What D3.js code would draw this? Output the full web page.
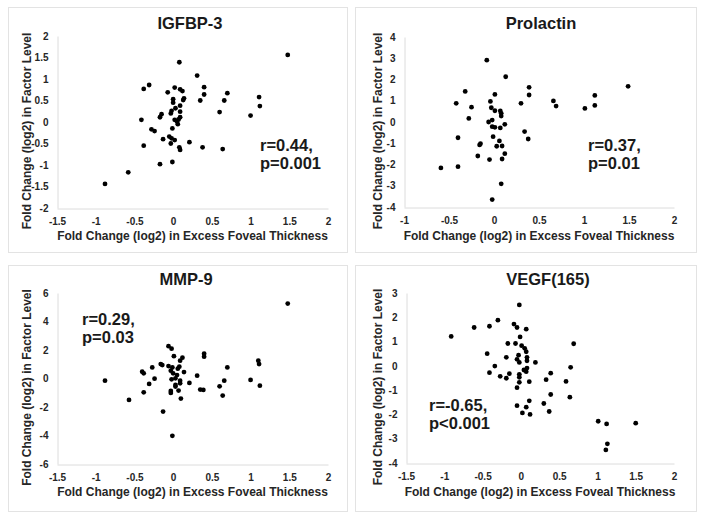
<!DOCTYPE html>
<html><head><meta charset="utf-8">
<script src="https://cdn.jsdelivr.net/npm/d3@7"></script>
<style>
html,body{margin:0;padding:0;background:#fff;}
svg{display:block;font-family:"Liberation Sans",Arial,sans-serif;}
</style></head>
<body><svg id="c" width="704" height="520"></svg>
<script>
// ---- data ----
const titles = ["IGFBP-3", "Prolactin", "MMP-9", "VEGF(165)"];
const statLines = [["r=0.44,", "p=0.001"], ["r=0.37,", "p=0.01"], ["r=0.29,", "p=0.03"], ["r=-0.65,", "p<0.001"]];
const xTitle = "Fold Change (log2) in Excess Foveal Thickness";
const yTitle = "Fold Change (log2) in Factor Level";

const igfbp3X = [1.48,0.08,0.31,-0.38,-0.31,-0.07,0.02,0.09,0.12,0.14,0.13,0.40,0.40,0.35,0.70,0.66,1.11,1.12,0.60,1.00,-0.41,0.00,0.00,0.03,-0.02,-0.03,0.09,0.09,-0.15,-0.17,0.09,0.07,0.02,0.05,0.06,-0.01,-0.28,-0.24,-0.13,-0.05,-0.02,0.02,-0.03,0.21,0.08,0.09,0.38,0.64,-0.38,-0.17,-0.01,-0.58,-0.88];
const igfbp3Y = [1.56,1.39,1.08,0.77,0.86,0.69,0.80,0.76,0.72,0.55,0.51,0.81,0.64,0.50,0.67,0.50,0.58,0.37,0.23,0.15,0.05,0.53,0.45,0.32,0.26,0.20,0.38,0.24,0.18,0.11,0.11,0.06,0.05,0.01,-0.05,-0.15,-0.17,-0.21,-0.40,-0.34,-0.38,-0.42,-0.50,-0.47,-0.59,-0.65,-0.59,-0.63,-0.55,-0.98,-0.93,-1.17,-1.44];

const prolactinX = [-0.08,0.13,-0.32,-0.42,-0.25,-0.28,0.01,-0.04,-0.03,0.01,0.07,0.08,0.08,-0.02,-0.06,-0.02,0.01,0.07,0.12,0.30,0.39,0.39,0.66,0.69,1.01,1.12,1.12,1.49,0.34,0.38,-0.40,-0.01,0.06,0.03,0.09,-0.15,-0.16,0.12,-0.18,-0.05,0.09,-0.40,-0.59,0.08,-0.02];
const prolactinY = [2.91,2.13,1.44,0.88,0.70,0.17,1.30,0.97,0.67,0.53,0.52,0.41,0.28,0.09,0.00,-0.22,-0.25,-0.28,-0.11,0.88,1.63,1.27,0.99,0.75,0.64,0.78,1.25,1.68,-0.45,-0.80,-0.74,-0.69,-0.89,-1.14,-1.13,-1.02,-1.08,-1.49,-1.60,-1.77,-1.74,-2.10,-2.16,-2.91,-3.65];

const mmp9X = [1.48,-0.88,-0.57,-0.13,-0.01,-0.06,-0.02,0.01,0.40,0.40,0.12,0.09,-0.16,-0.14,-0.27,-0.40,-0.38,-0.24,-0.31,-0.38,-0.06,-0.01,0.06,0.14,0.08,-0.03,0.00,0.05,-0.02,0.03,0.09,0.03,0.09,0.07,-0.03,-0.03,0.10,0.03,0.21,0.31,0.35,0.39,0.70,0.66,0.60,0.64,1.00,1.10,1.11,1.12];
const mmp9Y = [5.26,-0.15,-1.50,-2.32,-4.02,2.27,2.09,1.57,1.74,1.53,1.46,1.25,1.01,0.94,0.78,0.48,0.36,-0.01,-0.38,-0.97,0.87,0.78,0.69,0.45,0.83,0.55,0.36,0.24,-0.06,0.01,-0.15,-0.45,-0.34,-0.85,-0.87,-1.01,-1.41,-0.57,-0.31,0.20,-0.78,-0.80,0.78,-0.15,-0.55,-1.20,-0.10,1.25,1.01,-0.50];

const vegfX = [-0.02,-0.91,-0.61,-0.41,-0.30,-0.09,-0.05,0.07,-0.01,-0.17,-0.07,0.69,0.01,0.05,0.07,-0.44,-0.19,-0.03,-0.05,0.08,0.08,-0.02,0.19,-0.34,0.65,0.08,0.04,0.07,-0.41,0.39,-0.02,-0.27,-0.19,-0.15,-0.02,0.11,0.33,0.59,-0.02,-0.05,0.39,0.64,0.11,-0.05,0.07,0.30,0.02,0.12,0.37,1.01,1.12,1.50,1.13,1.11];
const vegfY = [2.51,1.21,1.58,1.63,1.88,1.72,1.58,1.51,1.19,0.92,0.92,0.91,0.83,0.72,0.58,0.50,0.35,0.44,0.27,0.35,0.21,0.14,0.14,-0.01,-0.06,-0.09,-0.17,-0.24,-0.28,-0.30,-0.35,-0.43,-0.51,-0.32,-0.47,-0.65,-0.57,-0.64,-0.68,-0.90,-1.18,-1.29,-1.44,-1.64,-1.70,-1.55,-1.94,-2.00,-1.88,-2.28,-2.39,-2.36,-3.21,-3.46];

const xTicks = [[-1.5,-1,-0.5,0,0.5,1,1.5,2],[-1,-0.5,0,0.5,1,1.5,2],[-1.5,-1,-0.5,0,0.5,1,1.5,2],[-1.5,-1,-0.5,0,0.5,1,1.5,2]];
const yTicks = [[-2,-1.5,-1,-0.5,0,0.5,1,1.5,2],[-4,-3,-2,-1,0,1,2,3,4],[-6,-4,-2,0,2,4,6],[-4,-3,-2,-1,0,1,2,3]];
const xsAll = [igfbp3X, prolactinX, mmp9X, vegfX];
const ysAll = [igfbp3Y, prolactinY, mmp9Y, vegfY];

// ---- layout ----
const layout = [
  {box:[8,7,339,245], px:[57,328], py:[208,36], titleX:190, titleY:29, statX:260, statY:151, yTitleX:27, xTitleY:240},
  {box:[355,7,341,245], px:[404,674], py:[207,37], titleX:541, titleY:29, statX:588, statY:151, yTitleX:378, xTitleY:240},
  {box:[8,265,339,246], px:[57,328], py:[464,293], titleX:186, titleY:285, statX:82, statY:325, yTitleX:27, xTitleY:496},
  {box:[355,265,341,246], px:[406,674], py:[463,293], titleX:548, titleY:285, statX:429, statY:411, yTitleX:378, xTitleY:496}
];

const svg = d3.select("#c");
const fmt = d => String(d);

layout.forEach((L, i) => {
  const g = svg.append("g");
  g.append("rect").attr("x", L.box[0]+0.5).attr("y", L.box[1]+0.5)
    .attr("width", L.box[2]).attr("height", L.box[3])
    .attr("fill", "#fff").attr("stroke", "#e3e3e3").attr("stroke-width", 1);

  const xt = xTicks[i], yt = yTicks[i];
  const x = d3.scaleLinear().domain([xt[0], xt[xt.length-1]]).range(L.px);
  const y = d3.scaleLinear().domain([yt[0], yt[yt.length-1]]).range(L.py);

  const xAxis = g.append("g").attr("transform", `translate(0,${L.py[0]+0.5})`)
    .call(d3.axisBottom(x).tickValues(xt).tickFormat(fmt).tickSize(0).tickPadding(9));
  const yAxis = g.append("g").attr("transform", `translate(${L.px[0]+0.5},0)`)
    .call(d3.axisLeft(y).tickValues(yt).tickFormat(fmt).tickSize(0).tickPadding(9));
  [xAxis, yAxis].forEach(a => {
    a.select(".domain").attr("stroke", "#dcdcdc").attr("stroke-width", 1);
    a.selectAll("text").attr("font-family", "'Liberation Sans',Arial,sans-serif")
      .attr("font-size", 10).attr("font-weight", "bold").attr("fill", "#262626");
  });

  g.append("g").selectAll("circle").data(xsAll[i].map((v, k) => [v, ysAll[i][k]]))
    .join("circle").attr("cx", d => x(d[0])).attr("cy", d => y(d[1]))
    .attr("r", 2.4).attr("fill", "#000");

  g.append("text").attr("x", L.titleX).attr("y", L.titleY).attr("text-anchor", "middle")
    .attr("font-size", 16.5).attr("font-weight", "bold").attr("fill", "#1a1a1a").text(titles[i]);

  g.append("text").attr("x", (L.px[0]+L.px[1])/2).attr("y", L.xTitleY).attr("text-anchor", "middle")
    .attr("font-size", 12).attr("font-weight", "bold").attr("fill", "#262626").text(xTitle);

  const ym = (L.py[0]+L.py[1])/2 + 9;
  g.append("text").attr("transform", `translate(${L.yTitleX + 4},${ym}) rotate(-90)`)
    .attr("text-anchor", "middle")
    .attr("font-size", 12).attr("font-weight", "bold").attr("fill", "#262626").text(yTitle);

  statLines[i].forEach((s, k) => {
    g.append("text").attr("x", L.statX).attr("y", L.statY + k*18)
      .attr("font-size", 16.5).attr("font-weight", "bold").attr("fill", "#1a1a1a").text(s);
  });
});
</script>
</body></html>
